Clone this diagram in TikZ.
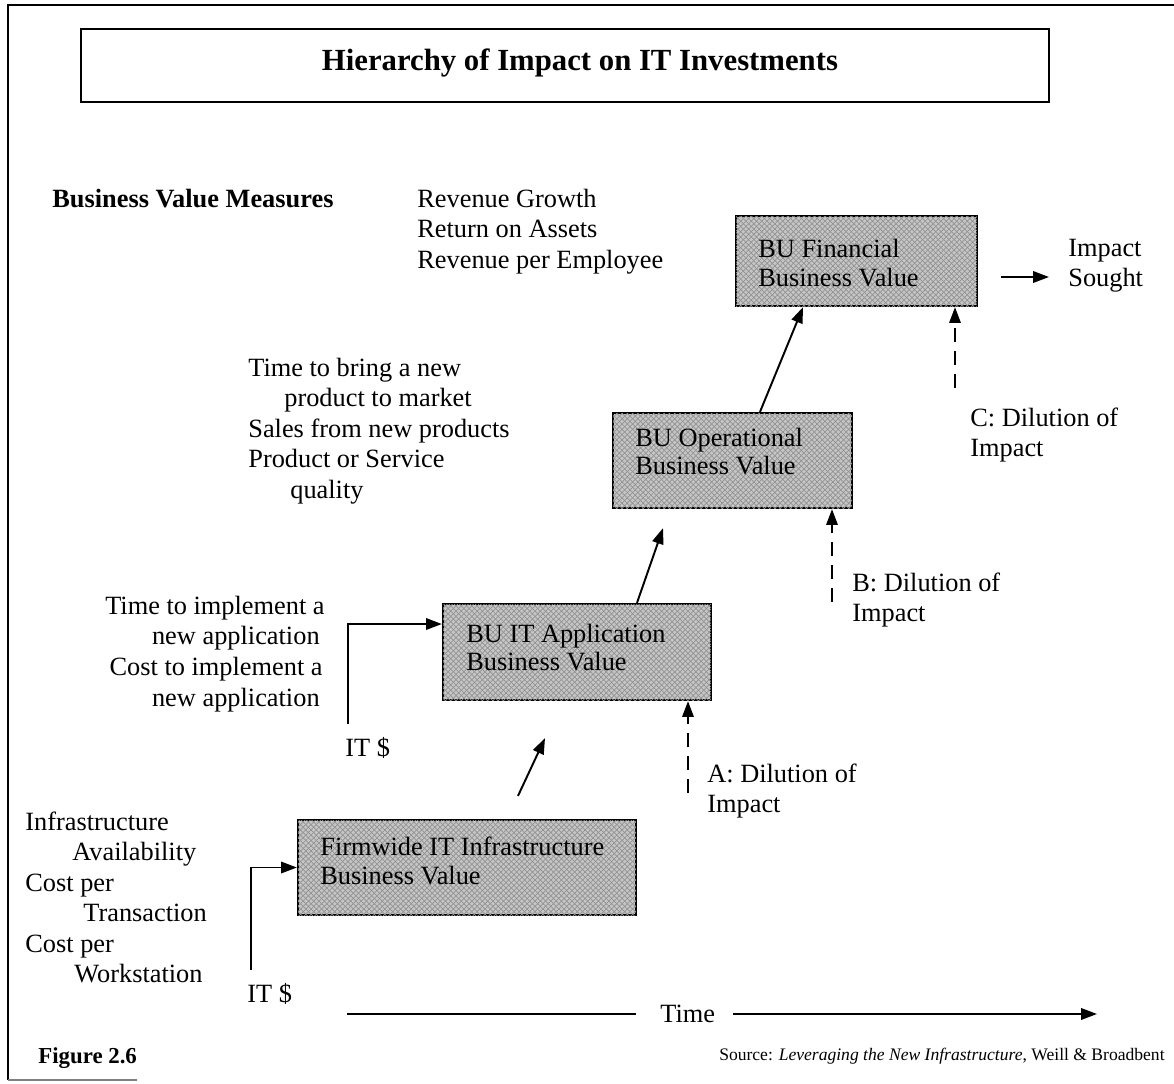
\documentclass[tikz,border=0pt]{standalone}
\usepackage{fontspec}
\setmainfont{Liberation Serif}
\usetikzlibrary{arrows.meta,patterns}

\begin{document}
\begin{tikzpicture}[x=0.02cm, y=-0.02cm,
  txt/.style={anchor=base west, inner sep=0pt, font=\fontsize{15}{17}\selectfont},
  rtxt/.style={txt, anchor=base east},
  boxtxt/.style={anchor=base west, inner sep=0pt, font=\fontsize{15}{17}\selectfont},
  valuebox/.style={draw, line width=1.3pt, fill=gray!45, inner sep=0pt,
    postaction={pattern=crosshatch, pattern color=gray!85}},
  conn/.style={line width=1.1pt, -{Triangle[length=9pt,width=6.5pt]}},
  dilution/.style={conn, dash pattern=on 8pt off 5pt},
  frame/.style={line width=1.1pt}]

% canvas
\useasboundingbox (0,0) rectangle (1174,1083);

% outer frame and title
\coordinate (frTL) at (8,5);
\coordinate (frTR) at (1174,5);
\coordinate (frBL) at (8,1080);
\coordinate (frBR) at (137,1080);
\draw[frame] (frTR) -- (frTL) -- (frBL);
\draw[line width=0.8pt, gray] (frBL) -- (frBR);
\node[draw, line width=1.3pt, minimum width=19.36cm, minimum height=1.46cm, inner sep=0pt] (titlebox) at (565,65.5) {};
\node[anchor=base, inner sep=0pt, font=\fontsize{17.5}{20}\selectfont\bfseries] (title) at (580,70) {Hierarchy of Impact on IT Investments};

% measures
\node[txt, font=\fontsize{15}{17}\selectfont\bfseries] (bvm) at (52,207) {Business Value Measures};
\node[txt] (m1) at (417,207) {Revenue Growth};
\node[txt] (m2) at (417,237) {Return on Assets};
\node[txt] (m3) at (417,268) {Revenue per Employee};

\node[txt] (o1) at (248,376) {Time to bring a new};
\node[txt] (o2) at (284,406) {product to market};
\node[txt] (o3) at (248,437) {Sales from new products};
\node[txt] (o4) at (248,467) {Product or Service};
\node[txt] (o5) at (290,498) {quality};

\node[rtxt] (a1) at (325,614) {Time to implement a};
\node[rtxt] (a2) at (320,644) {new application};
\node[rtxt] (a3) at (323,675) {Cost to implement a};
\node[rtxt] (a4) at (320,706) {new application};

\node[txt] (i1) at (25,830) {Infrastructure};
\node[txt] (i2) at (72,860) {Availability};
\node[txt] (i3) at (25,891) {Cost per};
\node[txt] (i4) at (83,921) {Transaction};
\node[txt] (i5) at (25,952) {Cost per};
\node[txt] (i6) at (74,982) {Workstation};

% value boxes
\node[valuebox, minimum width=4.82cm, minimum height=1.8cm] (fin) at (856.5,261) {};
\node[boxtxt] (fin1) at (758,257) {BU Financial};
\node[boxtxt] (fin2) at (758,286) {Business Value};

\node[valuebox, minimum width=4.78cm, minimum height=1.9cm] (op) at (732.5,460.5) {};
\node[boxtxt] (op1) at (635,446) {BU Operational};
\node[boxtxt] (op2) at (635,474) {Business Value};

\node[valuebox, minimum width=5.36cm, minimum height=1.92cm] (app) at (577,652) {};
\node[boxtxt] (app1) at (466,642) {BU IT Application};
\node[boxtxt] (app2) at (466,670) {Business Value};

\node[valuebox, minimum width=6.76cm, minimum height=1.9cm] (firm) at (467,867.5) {};
\node[boxtxt] (firm1) at (320,855) {Firmwide IT Infrastructure};
\node[boxtxt] (firm2) at (320,884) {Business Value};

% climb between levels
\draw[conn] ([xshift=1.02cm,yshift=0.46cm]firm.north) -- ([xshift=-0.64cm,yshift=-0.74cm]app.south);
\draw[conn] ([xshift=1.2cm]app.north) -- ([xshift=-1.39cm,yshift=-0.38cm]op.south);
\draw[conn] ([xshift=0.55cm]op.north) -- ([xshift=-1.07cm]fin.south);

% IT spending inputs
\node[txt] (it1) at (345,756) {IT \$};
\node[txt] (it2) at (247,1002) {IT \$};
\coordinate (itA) at (348,724);
\coordinate (itB) at (251,970);
\draw[conn] (itA) |- ([yshift=0.56cm]app.west);
\draw[conn] (itB) |- (firm.west);

% dilution of impact
\coordinate (dA) at (688,793);
\coordinate (dB) at (832,602);
\coordinate (dC) at (955,388);
\draw[dilution] (dA) -- (dA |- app.south);
\draw[dilution] (dB) -- (dB |- op.south);
\draw[dilution] (dC) -- (dC |- fin.south);
\node[txt] (la1) at (707,782) {A: Dilution of};
\node[txt] (la2) at (707,812) {Impact};
\node[txt] (lb1) at (852,591) {B: Dilution of};
\node[txt] (lb2) at (852,621) {Impact};
\node[txt] (lc1) at (970,426) {C: Dilution of};
\node[txt] (lc2) at (970,456) {Impact};

% impact sought
\node[txt] (is1) at (1068,256) {Impact};
\node[txt] (is2) at (1068,286) {Sought};
\coordinate (isA) at (1001,277);
\coordinate (isB) at (1049,277);
\draw[conn] (isA) -- (isB);

% time axis
\node[txt] (time) at (660,1022) {Time};
\coordinate (tA) at (347,1014);
\coordinate (tAe) at (636,1014);
\coordinate (tBs) at (733,1014);
\coordinate (tB) at (1097,1014);
\draw[line width=1.1pt] (tA) -- (tAe);
\draw[conn] (tBs) -- (tB);

% caption and source
\node[txt, font=\fontsize{13}{15}\selectfont\bfseries] (fig) at (38,1063) {Figure 2.6};
\node[anchor=base east, inner sep=0pt, font=\fontsize{10}{12}\selectfont] (src) at (1165,1060) {Source: \textit{Leveraging the New Infrastructure}, Weill \& Broadbent};
\end{tikzpicture}
\end{document}
